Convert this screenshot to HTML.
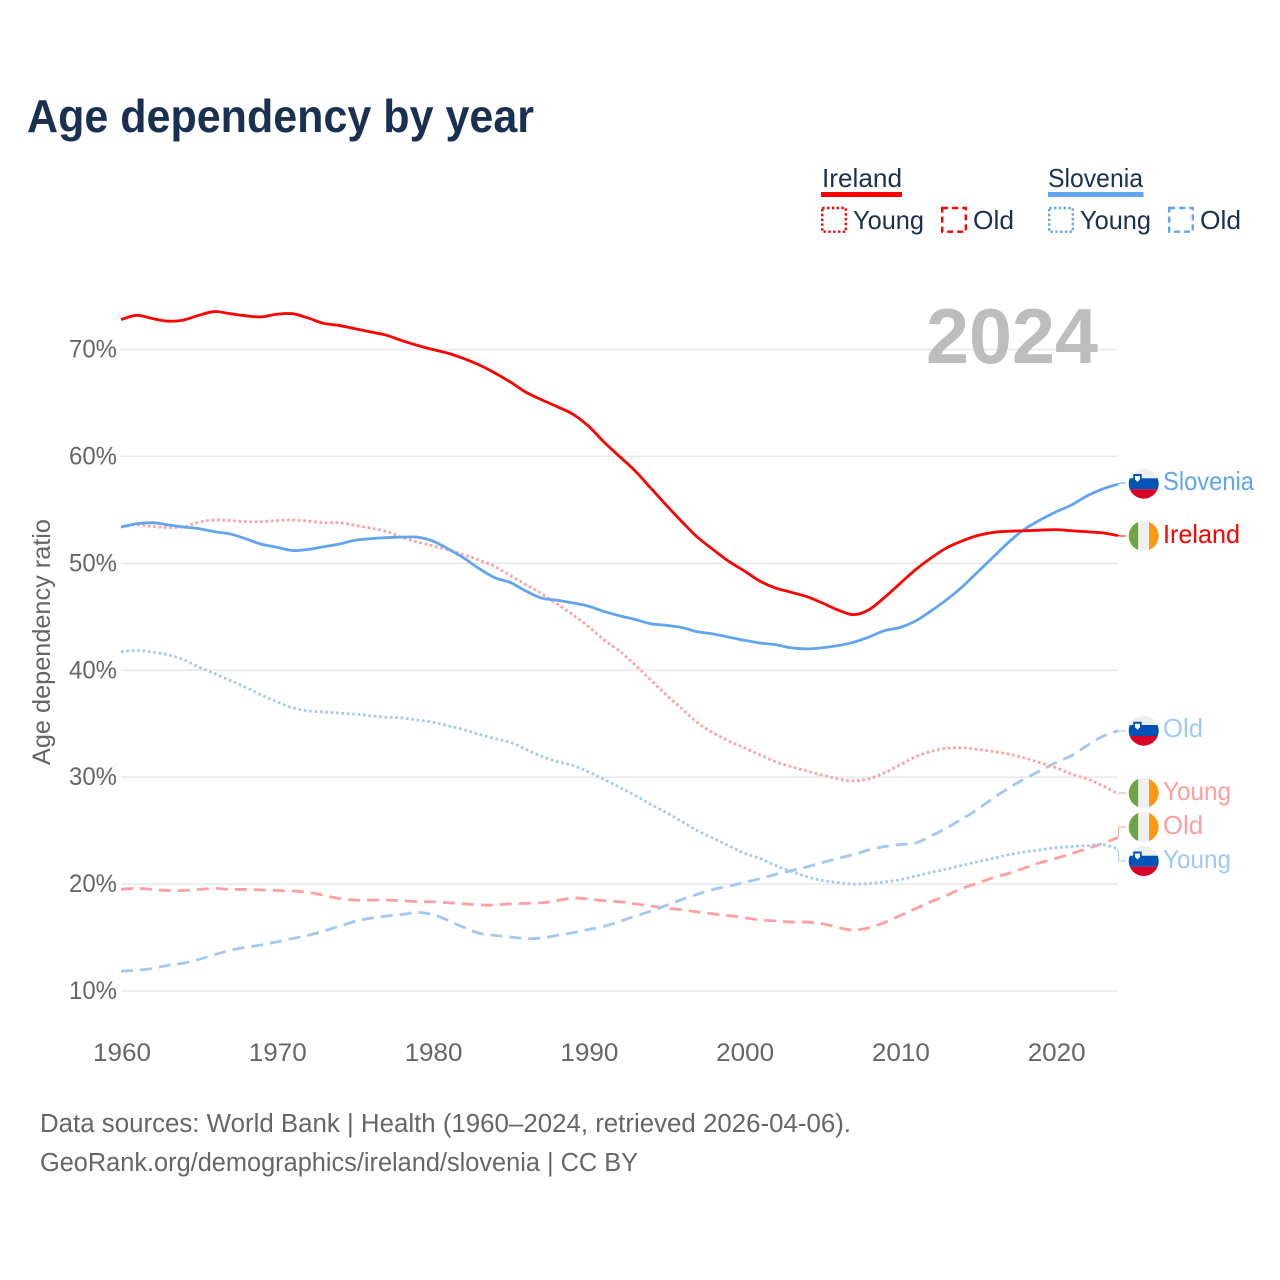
<!DOCTYPE html>
<html lang="en">
<head>
<meta charset="utf-8">
<title>Age dependency by year</title>
<style>
html,body{margin:0;padding:0;background:#fff}
svg{display:block}
text{font-family:"Liberation Sans",sans-serif}
</style>
</head>
<body>
<svg id="chart" xmlns="http://www.w3.org/2000/svg" width="1280" height="1280" viewBox="0 0 1280 1280">
  <defs>
    <clipPath id="flag-clip-1"><circle cx="1143.7" cy="483.7" r="15"/></clipPath>
    <clipPath id="flag-clip-2"><circle cx="1143.7" cy="536" r="15"/></clipPath>
    <clipPath id="flag-clip-3"><circle cx="1143.7" cy="730.7" r="15"/></clipPath>
    <clipPath id="flag-clip-4"><circle cx="1143.7" cy="793" r="15"/></clipPath>
    <clipPath id="flag-clip-5"><circle cx="1143.7" cy="827" r="15"/></clipPath>
    <clipPath id="flag-clip-6"><circle cx="1143.7" cy="861" r="15"/></clipPath>
  </defs>
  <rect width="1280" height="1280" fill="#fff"/>
  <text x="27" y="132" font-size="46" font-weight="700" fill="#1a3050" textLength="507" lengthAdjust="spacingAndGlyphs">Age dependency by year</text>

  <g>
    <text x="822" y="187" font-size="26" fill="#1a3050" textLength="80" lengthAdjust="spacingAndGlyphs">Ireland</text>
    <rect x="821" y="192" width="81" height="5" fill="#ff0000"/>
    <rect x="822.2" y="208" width="23.6" height="23.7" fill="none" stroke="#ff0000" stroke-width="2.4" stroke-dasharray="2.4 2.4"/>
    <text x="853" y="229" font-size="26" fill="#1a3050" textLength="71" lengthAdjust="spacingAndGlyphs">Young</text>
    <rect x="942.2" y="208" width="23.6" height="23.7" fill="none" stroke="#ff0000" stroke-width="2.4" stroke-dasharray="6 4"/>
    <text x="973" y="229" font-size="26" fill="#1a3050" textLength="41" lengthAdjust="spacingAndGlyphs">Old</text>
    <text x="1048" y="187" font-size="26" fill="#1a3050" textLength="95" lengthAdjust="spacingAndGlyphs">Slovenia</text>
    <rect x="1048" y="192" width="95.500" height="5" fill="#60a5ee"/>
    <rect x="1049.2" y="208" width="23.6" height="23.7" fill="none" stroke="#60a5ee" stroke-width="2.4" stroke-dasharray="2.4 2.4"/>
    <text x="1080" y="229" font-size="26" fill="#1a3050" textLength="71" lengthAdjust="spacingAndGlyphs">Young</text>
    <rect x="1169.2" y="208" width="23.6" height="23.7" fill="none" stroke="#60a5ee" stroke-width="2.4" stroke-dasharray="6 4"/>
    <text x="1200" y="229" font-size="26" fill="#1a3050" textLength="41" lengthAdjust="spacingAndGlyphs">Old</text>
  </g>

  <g id="grid"></g>
  <text x="926" y="363" font-size="78" font-weight="700" fill="#bdbdbd" textLength="172" lengthAdjust="spacingAndGlyphs">2024</text>
  <g id="yticks"></g>
  <g id="xticks"></g>
  <text transform="translate(50,765) rotate(-90)" x="0" y="0" font-size="25" fill="#666" textLength="246" lengthAdjust="spacingAndGlyphs">Age dependency ratio</text>
  <g id="lines"></g>
  <g id="connectors"></g>

  <g clip-path="url(#flag-clip-1)">
    <rect x="1128" y="468" width="32" height="10.300" fill="#efefef"/><rect x="1128" y="478.300" width="32" height="11" fill="#0052b4"/><rect x="1128" y="489.300" width="32" height="11" fill="#d80027"/>
    <path d="M1133.300 474h8.400v6l-4.200 4-4.200-4z" fill="#0052b4"/><path d="M1135 476h5v3.500l-2.500 2.500-2.500-2.500z" fill="#fff"/>
  </g>
  <g clip-path="url(#flag-clip-2)">
    <rect x="1128" y="520" width="10.300" height="32" fill="#6da544"/><rect x="1138.300" y="520" width="10.700" height="32" fill="#f0f0f0"/><rect x="1149" y="520" width="11" height="32" fill="#ff9811"/>
  </g>
  <g clip-path="url(#flag-clip-3)">
    <rect x="1128" y="715" width="32" height="10" fill="#efefef"/><rect x="1128" y="725" width="32" height="11" fill="#0052b4"/><rect x="1128" y="736" width="32" height="11" fill="#d80027"/>
    <path d="M1133.300 721.700h8.400v6l-4.200 4-4.200-4z" fill="#0052b4"/><path d="M1135 723.700h5v3.500l-2.500 2.500-2.500-2.500z" fill="#fff"/>
  </g>
  <g clip-path="url(#flag-clip-4)">
    <rect x="1128" y="777" width="10.300" height="32" fill="#6da544"/><rect x="1138.300" y="777" width="10.700" height="32" fill="#f0f0f0"/><rect x="1149" y="777" width="11" height="32" fill="#ff9811"/>
  </g>
  <g clip-path="url(#flag-clip-5)">
    <rect x="1128" y="811" width="10.300" height="32" fill="#6da544"/><rect x="1138.300" y="811" width="10.700" height="32" fill="#f0f0f0"/><rect x="1149" y="811" width="11" height="32" fill="#ff9811"/>
  </g>
  <g clip-path="url(#flag-clip-6)">
    <rect x="1128" y="845" width="32" height="10.700" fill="#efefef"/><rect x="1128" y="855.700" width="32" height="11" fill="#0052b4"/><rect x="1128" y="866.700" width="32" height="11" fill="#d80027"/>
    <path d="M1133.300 851.500h8.400v6l-4.200 4-4.200-4z" fill="#0052b4"/><path d="M1135 853.500h5v3.500l-2.500 2.500-2.500-2.500z" fill="#fff"/>
  </g>

  <text x="1163" y="490" font-size="26" fill="#60a5ee" textLength="91" lengthAdjust="spacingAndGlyphs">Slovenia</text>
  <text x="1163" y="543" font-size="26" fill="#ff0000" textLength="77" lengthAdjust="spacingAndGlyphs">Ireland</text>
  <text x="1163" y="737" font-size="26" fill="#a0c9f2" textLength="40" lengthAdjust="spacingAndGlyphs">Old</text>
  <text x="1163" y="800" font-size="26" fill="#ff9f9f" textLength="68" lengthAdjust="spacingAndGlyphs">Young</text>
  <text x="1163" y="834" font-size="26" fill="#ff9f9f" textLength="40" lengthAdjust="spacingAndGlyphs">Old</text>
  <text x="1163" y="868" font-size="26" fill="#a0c9f2" textLength="68" lengthAdjust="spacingAndGlyphs">Young</text>

  <text x="40" y="1132" font-size="25.500" fill="#666" textLength="811" lengthAdjust="spacingAndGlyphs">Data sources: World Bank | Health (1960–2024, retrieved 2026-04-06).</text>
  <text x="40" y="1171" font-size="25.500" fill="#666" textLength="598" lengthAdjust="spacingAndGlyphs">GeoRank.org/demographics/ireland/slovenia | CC BY</text>
</svg>
<script>
var firstYear = 1960;
var lastYear = 2024;
var xTickYears = [1960, 1970, 1980, 1990, 2000, 2010, 2020];
var yTickValues = [10, 20, 30, 40, 50, 60, 70];
var irelandTotal = [72.8,73.2,72.9,72.65,72.75,73.2,73.55,73.35,73.15,73.05,
  73.3,73.35,72.95,72.45,72.25,71.95,71.65,71.35,70.85,70.4,
  70.0,69.65,69.15,68.55,67.8,66.95,66.0,65.3,64.65,63.95,
  62.85,61.35,60.0,58.65,57.05,55.45,53.9,52.45,51.3,50.2,
  49.3,48.35,47.7,47.3,46.9,46.3,45.65,45.2,45.65,46.8,
  48.1,49.4,50.5,51.45,52.1,52.6,52.9,53.0,53.05,53.1,
  53.15,53.05,52.95,52.85,52.6];
var sloveniaTotal = [53.4,53.7,53.8,53.6,53.4,53.25,52.95,52.75,52.3,51.8,
  51.5,51.2,51.3,51.55,51.8,52.15,52.3,52.4,52.45,52.45,
  52.1,51.35,50.5,49.5,48.65,48.2,47.4,46.75,46.55,46.3,
  46.0,45.5,45.1,44.75,44.35,44.2,44.0,43.6,43.4,43.1,
  42.8,42.55,42.4,42.1,42.0,42.1,42.3,42.6,43.1,43.7,
  44.0,44.6,45.55,46.6,47.8,49.2,50.6,52.0,53.2,54.05,
  54.8,55.45,56.3,56.95,57.4];
var irelandYoung = [53.4,53.6,53.45,53.35,53.4,53.85,54.05,54.0,53.9,53.9,
  54.0,54.05,53.95,53.8,53.8,53.55,53.3,53.0,52.45,52.0,
  51.65,51.25,50.8,50.3,49.7,48.85,48.0,47.15,46.2,45.2,
  44.1,42.85,41.8,40.5,39.1,37.7,36.4,35.1,34.15,33.4,
  32.75,32.1,31.45,31.0,30.6,30.2,29.85,29.65,29.85,30.4,
  31.15,31.9,32.4,32.7,32.75,32.6,32.4,32.15,31.8,31.35,
  30.9,30.3,29.85,29.2,28.45];
var sloveniaYoung = [41.75,41.85,41.7,41.45,41.0,40.3,39.7,39.05,38.4,37.7,
  37.05,36.5,36.2,36.1,36.0,35.9,35.75,35.6,35.55,35.35,
  35.15,34.8,34.45,34.0,33.6,33.25,32.6,31.95,31.45,31.1,
  30.5,29.8,29.05,28.3,27.45,26.7,25.85,25.0,24.3,23.6,
  22.9,22.4,21.75,21.2,20.7,20.35,20.15,20.0,20.05,20.2,
  20.4,20.75,21.1,21.4,21.75,22.1,22.4,22.75,23.0,23.2,
  23.4,23.5,23.6,23.7,23.3];
var irelandOld = [19.5,19.6,19.5,19.4,19.4,19.5,19.6,19.5,19.5,19.45,
  19.4,19.35,19.25,18.95,18.65,18.5,18.5,18.5,18.45,18.35,
  18.35,18.25,18.15,18.05,18.05,18.15,18.2,18.25,18.45,18.7,
  18.6,18.45,18.35,18.15,17.95,17.75,17.6,17.4,17.2,17.05,
  16.85,16.65,16.55,16.45,16.45,16.3,15.95,15.7,15.9,16.4,
  17.05,17.7,18.35,18.95,19.6,20.1,20.6,21.0,21.5,22.0,
  22.4,22.85,23.3,23.8,24.35];
var sloveniaOld = [11.85,11.95,12.1,12.4,12.6,12.95,13.4,13.8,14.1,14.3,
  14.6,14.9,15.2,15.6,16.05,16.5,16.8,17.0,17.15,17.35,
  17.15,16.6,15.95,15.4,15.2,15.05,14.9,14.95,15.2,15.45,
  15.75,16.05,16.5,17.0,17.45,18.0,18.55,19.05,19.5,19.8,
  20.15,20.5,20.9,21.25,21.6,22.0,22.4,22.75,23.2,23.5,
  23.7,23.85,24.5,25.25,26.1,27.0,28.05,29.0,29.85,30.6,
  31.35,32.0,32.95,33.8,34.35];

var NS = 'http://www.w3.org/2000/svg';
function xScale(year) { return 121 + (year - 1960) * (1118 - 121) / 64; }
function yScale(v) { return 991 - (v - 10) * (991 - 349.5) / 60; }
function make(tag, attrs, parent) {
  var el = document.createElementNS(NS, tag);
  for (var k in attrs) el.setAttribute(k, attrs[k]);
  parent.appendChild(el);
  return el;
}
function smoothPath(values) {
  var pts = values.map(function (v, i) { return [xScale(firstYear + i), yScale(v)]; });
  var d = 'M' + pts[0][0].toFixed(2) + ' ' + pts[0][1].toFixed(2);
  for (var i = 0; i < pts.length - 1; i++) {
    var p0 = pts[Math.max(i - 1, 0)], p1 = pts[i], p2 = pts[i + 1], p3 = pts[Math.min(i + 2, pts.length - 1)];
    var c1x = p1[0] + (p2[0] - p0[0]) / 6, c1y = p1[1] + (p2[1] - p0[1]) / 6;
    var c2x = p2[0] - (p3[0] - p1[0]) / 6, c2y = p2[1] - (p3[1] - p1[1]) / 6;
    d += 'C' + c1x.toFixed(2) + ' ' + c1y.toFixed(2) + ' ' + c2x.toFixed(2) + ' ' + c2y.toFixed(2) + ' ' + p2[0].toFixed(2) + ' ' + p2[1].toFixed(2);
  }
  return d;
}
var gridG = document.getElementById('grid');
var yG = document.getElementById('yticks');
var xG = document.getElementById('xticks');
var linesG = document.getElementById('lines');
var connG = document.getElementById('connectors');

yTickValues.forEach(function (v) {
  var line = make('line', {x1: 121, x2: 1118, y1: yScale(v), y2: yScale(v), stroke: '#e8e8e8', 'stroke-width': 1.5}, gridG);
  
  
  var t = make('text', {x: 69, y: yScale(v) + 8, 'font-size': 25, fill: '#666', textLength: 48, lengthAdjust: 'spacingAndGlyphs'}, yG);
  t.textContent = v + '%';
  
  
});
xTickYears.forEach(function (yr) {
  var t = make('text', {x: xScale(yr) - 28, y: 1061, 'font-size': 25, fill: '#666', textLength: 58, lengthAdjust: 'spacingAndGlyphs'}, xG);
  t.textContent = String(yr);
  
  
});

var seriesList = [
  {name: 'ireland-old', values: irelandOld, color: '#ff9f9f', dash: '12 7', width: 2.8, labelY: 827, elbow: true},
  {name: 'slovenia-old', values: sloveniaOld, color: '#a0c9f2', dash: '12 7', width: 2.8, labelY: 731, elbow: false},
  {name: 'ireland-young', values: irelandYoung, color: '#ff9f9f', dash: '2.6 2.8', width: 2.8, labelY: 793, elbow: false},
  {name: 'slovenia-young', values: sloveniaYoung, color: '#a0c9f2', dash: '2.6 2.8', width: 2.8, labelY: 861, elbow: true},
  {name: 'slovenia-total', values: sloveniaTotal, color: '#60a5ee', dash: 'none', width: 2.8, labelY: 483, elbow: false},
  {name: 'ireland-total', values: irelandTotal, color: '#ff0000', dash: 'none', width: 2.8, labelY: 536, elbow: false}
];
seriesList.forEach(function (s) {
  var p = make('path', {d: smoothPath(s.values), fill: 'none', stroke: s.color, 'stroke-width': s.width, 'stroke-dasharray': s.dash, 'stroke-linejoin': 'round'}, linesG);
  
  
  var x0 = xScale(lastYear);
  var y0 = yScale(s.values[s.values.length - 1]);
  var cd = s.elbow
    ? 'M' + x0 + ' ' + y0 + 'L' + (x0 + 1) + ' ' + s.labelY + 'L1126 ' + s.labelY
    : 'M' + x0 + ' ' + y0 + 'L1120 ' + s.labelY + 'L1126 ' + s.labelY;
  var c = make('path', {d: cd, fill: 'none', stroke: s.color, 'stroke-width': 1}, connG);
  
  
});
</script>
</body>
</html>
